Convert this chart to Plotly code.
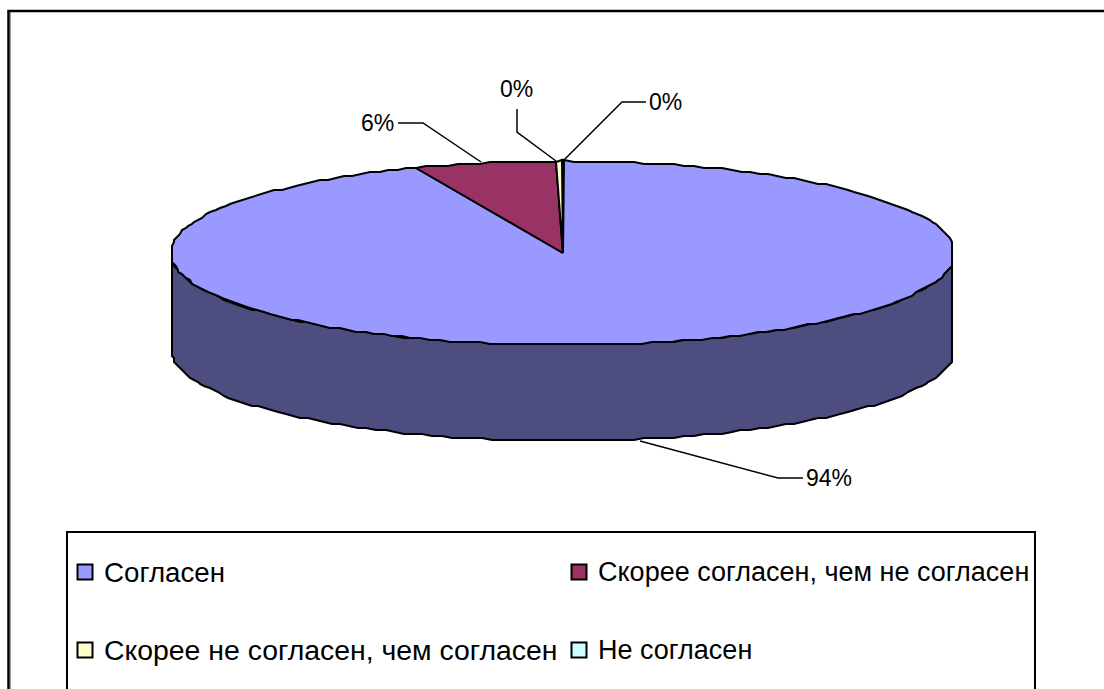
import numpy as np
import plotly.graph_objects as go

categories = ["Согласен", "Скорее согласен, чем не согласен",
              "Скорее не согласен, чем согласен", "Не согласен"]
values = [93.9, 5.8, 0.3, 0.0]
percent_labels = [f"{v:.0f}%" for v in values]
colors = ["#9999FF", "#993366", "#FFFFCC", "#CCFFFF"]
wall_color = "#4D4D80"

FONT = "Liberation Sans, Arial, sans-serif"
WIDTH, HEIGHT = 1104, 689

# pie geometry in page pixels
CX, CY = 563, 253
RX, RY = 390, 92
DEPTH = 96


def rim(start_deg, end_deg, drop=0):
    """Points on the pie ellipse, angles clockwise from 12 o'clock."""
    n = max(2, int(abs(end_deg - start_deg) / 1.5) + 1)
    t = np.radians(np.linspace(start_deg, end_deg, n))
    # slightly flattened at the far left and right, like the original
    x = np.clip(CX + (RX + 2) * np.sin(t), CX - RX, CX + RX)
    y = CY - RY * np.cos(t) + drop
    # the original outline is visibly stepped
    return np.round(x / 2) * 2, np.round(y / 2) * 2


fig = go.Figure()

# side wall, front half of the pie
tx, ty = rim(90, 270)
bx, by = rim(270, 90, DEPTH)
fig.add_trace(go.Scatter(
    x=np.concatenate([tx, bx, tx[:1]]), y=np.concatenate([ty, by, ty[:1]]),
    mode="lines", fill="toself", fillcolor=wall_color,
    line=dict(color="black", width=2), hoverinfo="skip", showlegend=False))

# top face, slices run clockwise from 12 o'clock
angle = 0
for name, value, color in zip(categories, values, colors):
    sweep = value / sum(values) * 360
    if sweep > 0:
        sx, sy = rim(angle, angle + sweep)
        fig.add_trace(go.Scatter(
            x=np.concatenate([[CX], sx, [CX]]), y=np.concatenate([[CY], sy, [CY]]),
            mode="lines", fill="toself", fillcolor=color, name=name,
            line=dict(color="black", width=2), showlegend=False))
    angle += sweep

# leader lines: one per slice, same order as values
leader_paths = [
    ([640, 778, 803], [441, 478, 478]),
    ([398, 423, 481], [123, 123, 162]),
    ([517, 517, 556], [109, 132, 161]),
    ([563, 622, 646], [161, 102, 102]),
]
label_positions = [(829, 478), (377, 123), (516, 89), (665, 102)]
for (lx, ly), (px, py), text in zip(leader_paths, label_positions, percent_labels):
    fig.add_trace(go.Scatter(x=lx, y=ly, mode="lines", hoverinfo="skip", showlegend=False,
                             line=dict(color="black", width=1.5)))
    fig.add_annotation(x=px, y=py, text=text, showarrow=False,
                       font=dict(family=FONT, size=23, color="black"))

# legend keys and entries, sizes tuned per entry to the original text widths
legend_positions = [(85, 572), (579, 572), (85, 650), (579, 650)]
legend_sizes = [27.7, 27, 28.4, 27]
for (kx, ky), name, color, size in zip(legend_positions, categories, colors, legend_sizes):
    fig.add_trace(go.Scatter(x=[kx], y=[ky], mode="markers", hoverinfo="skip", showlegend=False,
                             marker=dict(symbol="square", size=15, color=color,
                                         line=dict(color="black", width=2))))
    fig.add_annotation(x=kx + 17, y=ky, text=name, showarrow=False, xanchor="left",
                       font=dict(family=FONT, size=size, color="black"))

# outer frame and legend box run off the picture at the right and bottom
fig.add_shape(type="rect", x0=8.5, y0=11, x1=1130, y1=720, line=dict(color="black", width=2.5))
fig.add_shape(type="line", x0=10.5, y0=12, x1=10.5, y1=689, line=dict(color="#999999", width=1))
fig.add_shape(type="rect", x0=67, y0=532, x1=1035, y1=720, line=dict(color="black", width=2))

fig.update_xaxes(range=[0, WIDTH], visible=False)
fig.update_yaxes(range=[HEIGHT, 0], visible=False)
fig.update_layout(width=WIDTH, height=HEIGHT, margin=dict(l=0, r=0, t=0, b=0),
                  plot_bgcolor="white", paper_bgcolor="white", showlegend=False)

# the page's default body margin would push the chart off its place
fig.write_html("out.html", config=dict(displayModeBar=False),
               post_script="document.body.style.margin = '0';")
